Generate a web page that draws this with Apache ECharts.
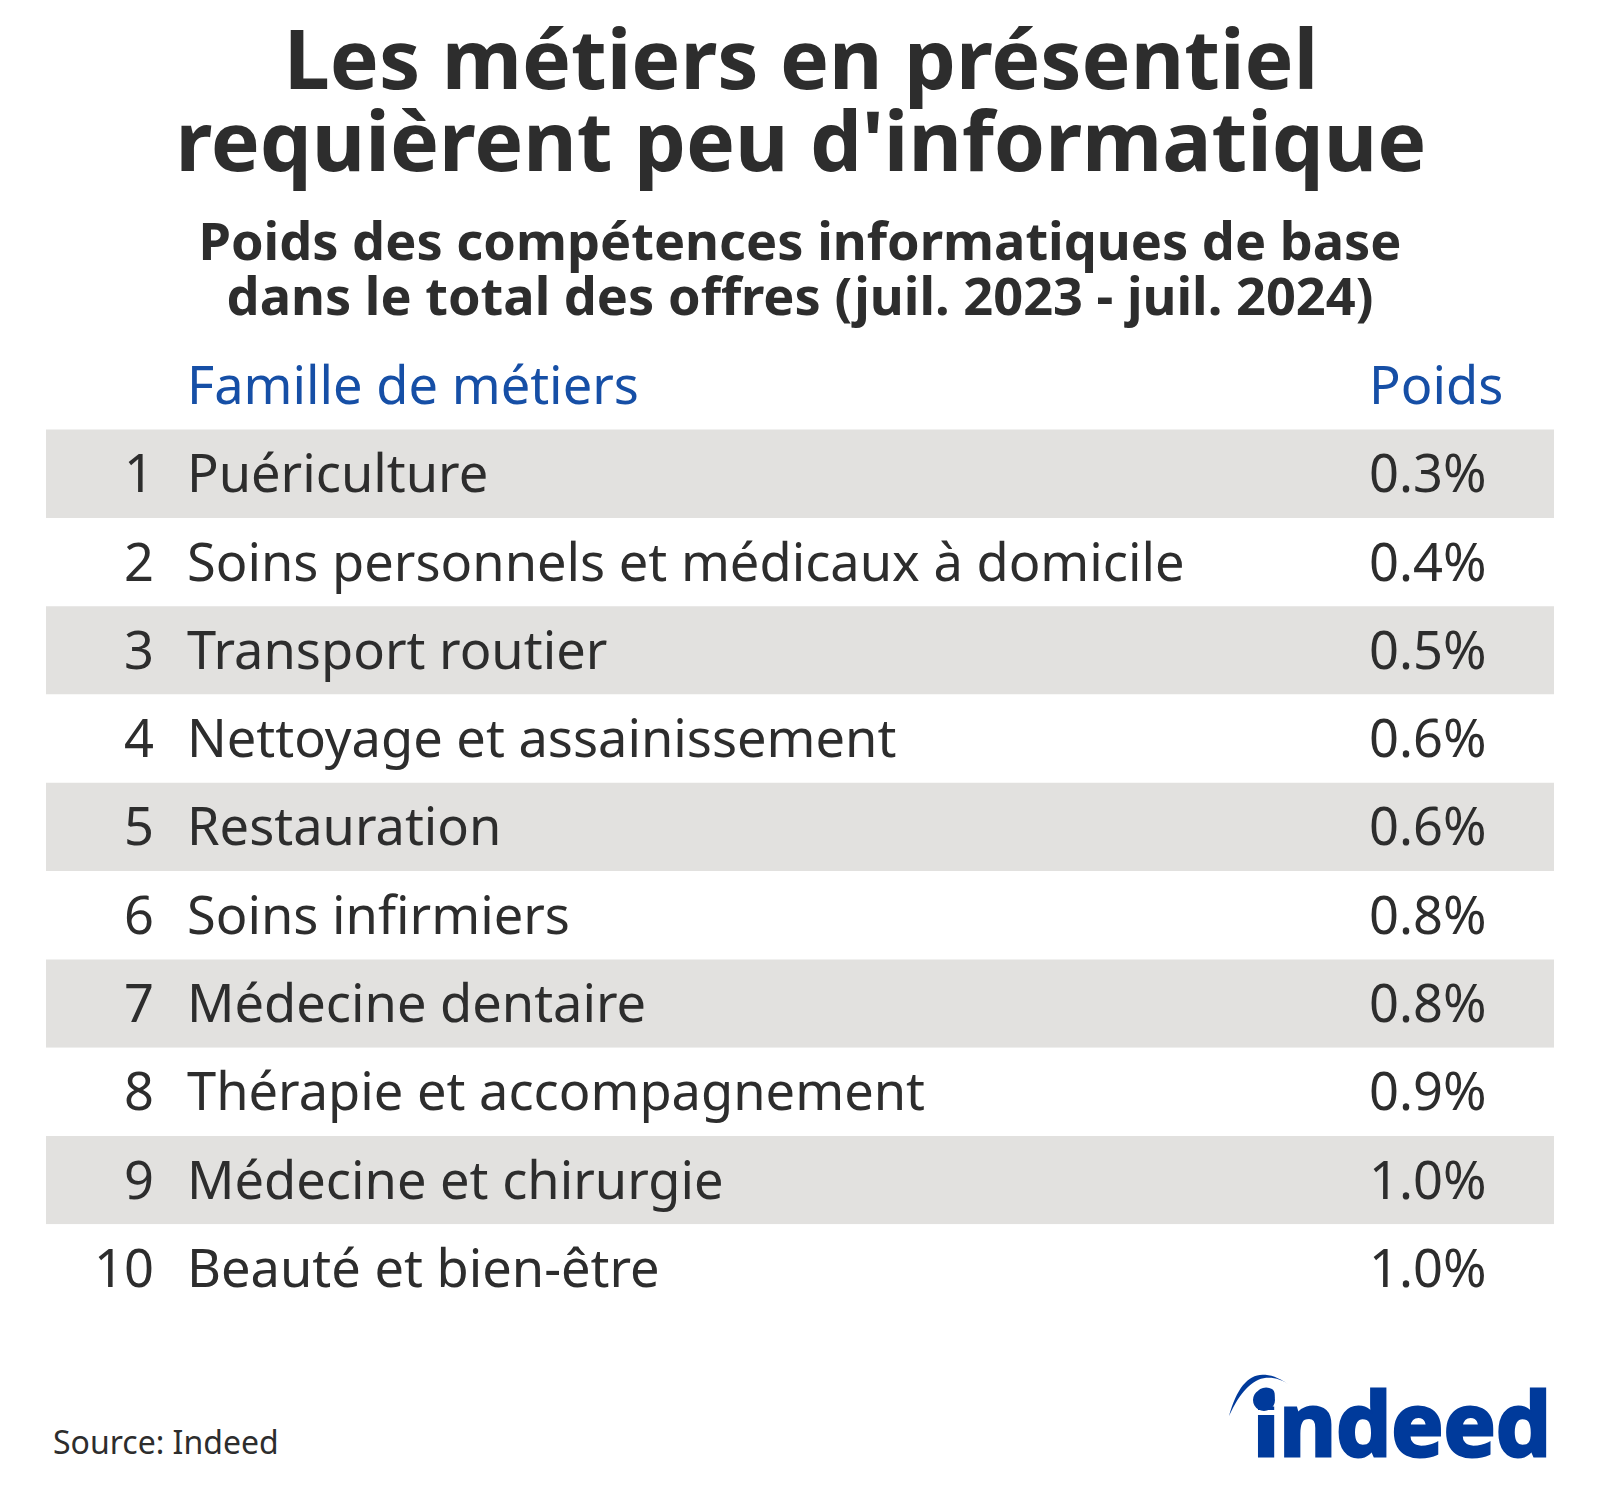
<!DOCTYPE html>
<html>
<head>
<meta charset="utf-8">
<style>html,body{margin:0;background:#fff}#chart{width:1600px;height:1506px}</style>
<script src="https://cdn.jsdelivr.net/npm/echarts@6/dist/echarts.min.js"></script>
</head>
<body>
<div id="chart"></div>
<script>
const ranks = [1, 2, 3, 4, 5, 6, 7, 8, 9, 10];
const jobs = ['Puériculture', 'Soins personnels et médicaux à domicile', 'Transport routier',
  'Nettoyage et assainissement', 'Restauration', 'Soins infirmiers', 'Médecine dentaire',
  'Thérapie et accompagnement', 'Médecine et chirurgie', 'Beauté et bien-être'];
const weights = [0.3, 0.4, 0.5, 0.6, 0.6, 0.8, 0.8, 0.9, 1.0, 1.0];

const FONT = '"Noto Sans"';
const INK = '#2d2d2d';
const BLUE = '#164fa6';
const LOGO = '#003a9b';
const GRID_LEFT = 46;
const RANK_X = 154, JOB_X = 187, WEIGHT_X = 1369;

// one invisible scatter per column, only the labels show
function column(name, x, text, align) {
  return {
    name: name,
    type: 'scatter',
    symbolSize: 0,
    silent: true,
    itemStyle: { opacity: 1 },
    data: ranks.map((r, i) => [x - GRID_LEFT, i]),
    label: {
      show: true, position: 'inside', align: align, verticalAlign: 'middle', offset: [0, -2],
      fontFamily: FONT, fontSize: 52.4, color: INK,
      formatter: p => text(p.dataIndex)
    }
  };
}

// logo swoosh: two quadratic curves between the same tips
function curve(a, c, b) {
  const pts = [];
  for (let k = 0; k <= 24; k++) {
    const t = k / 24, u = 1 - t;
    pts.push([u * u * a[0] + 2 * u * t * c[0] + t * t * b[0], u * u * a[1] + 2 * u * t * c[1] + t * t * b[1]]);
  }
  return pts;
}
const tipA = [1229, 1416], tipB = [1288, 1384];
const swoosh = curve(tipA, [1245.5, 1355], tipB).concat(curve(tipB, [1253.5, 1362], tipA));

const chart = echarts.init(document.getElementById('chart'), null, { renderer: 'svg' });
chart.setOption({
  animation: false,
  backgroundColor: '#fff',
  title: [
    { text: "Les métiers en présentiel\nrequièrent peu d'informatique", left: 796, top: 11, textAlign: 'center',
      textStyle: { fontFamily: FONT, fontWeight: 700, fontSize: 82.3, lineHeight: 82, color: INK } },
    { text: 'Poids des compétences informatiques de base\ndans le total des offres (juil. 2023 - juil. 2024)', left: 795, top: 207, textAlign: 'center',
      textStyle: { fontFamily: FONT, fontWeight: 700, fontSize: 52.3, lineHeight: 55, color: INK } },
    { text: 'Famille de métiers', left: JOB_X, top: 348, padding: 0,
      textStyle: { fontFamily: FONT, fontWeight: 400, fontSize: 52.4, lineHeight: 70, color: BLUE } },
    { text: 'Poids', left: WEIGHT_X, top: 348, padding: 0,
      textStyle: { fontFamily: FONT, fontWeight: 400, fontSize: 52.4, lineHeight: 70, color: BLUE } },
    { text: 'Source: Indeed', left: 53, top: 1419, padding: 0,
      textStyle: { fontFamily: FONT, fontWeight: 400, fontSize: 32, lineHeight: 44, color: INK } }
  ],
  grid: { left: GRID_LEFT, top: 429.6, width: 1508, height: 883 },
  xAxis: { type: 'value', min: 0, max: 1508, show: false },
  yAxis: {
    type: 'category', inverse: true, data: jobs,
    axisLine: { show: false }, axisTick: { show: false }, axisLabel: { show: false },
    splitLine: { show: false },
    splitArea: { show: true, areaStyle: { color: ['#e2e1df', '#ffffff'] } }
  },
  series: [
    column('Rang', RANK_X, i => String(ranks[i]), 'right'),
    column('Famille de métiers', JOB_X, i => jobs[i], 'left'),
    column('Poids', WEIGHT_X, i => weights[i].toFixed(1) + '%', 'left')
  ],
  graphic: [
    { type: 'text', x: 1253, y: 1378, silent: true,
      style: { text: 'indeed', fontFamily: FONT, fontWeight: 700, fontSize: 87.5, fill: LOGO, stroke: LOGO, lineWidth: 3, lineJoin: 'round' } },
    // gap between the big dot and the stem of the i
    { type: 'rect', shape: { x: 1252, y: 1410, width: 25, height: 5 }, silent: true, style: { fill: '#fff' } },
    { type: 'circle', shape: { cx: 1264, cy: 1400, r: 11 }, silent: true, style: { fill: LOGO } },
    { type: 'polygon', silent: true, shape: { points: swoosh }, style: { fill: LOGO } }
  ]
});
</script>
</body>
</html>
